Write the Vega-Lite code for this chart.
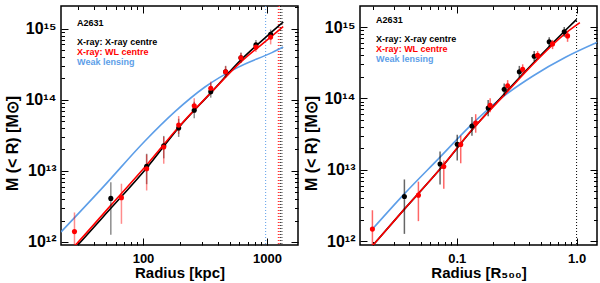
{
  "$schema": "https://vega.github.io/schema/vega-lite/v6.json",
  "padding": {"left": 4, "top": 4, "right": 2, "bottom": 0},
  "spacing": 3,
  "config": {
    "font": "Liberation Sans",
    "view": {"stroke": "black", "strokeWidth": 1.5},
    "axis": {
      "domain": false, "grid": false, "tickColor": "black", "labelColor": "black", "titleColor": "black",
      "labelFont": "Liberation Sans", "titleFont": "Liberation Sans",
      "labelFontWeight": "bold", "titleFontWeight": "bold", "labelOverlap": false, "labelFlush": false, "labelBound": false
    }
  },
  "datasets": {
    "ptsL": [
      {"s": "xc", "R": 55, "M": 4.1e12, "lo": 1.26e12, "hi": 6.9e12},
      {"s": "xc", "R": 107, "M": 1.16e13, "lo": 6.5e12, "hi": 1.74e13},
      {"s": "xc", "R": 147, "M": 2.25e13, "lo": 1.5e13, "hi": 3.1e13},
      {"s": "xc", "R": 194, "M": 4.0e13, "lo": 3.0e13, "hi": 5.4e13},
      {"s": "xc", "R": 259, "M": 7.1e13, "lo": 5.5e13, "hi": 9.4e13},
      {"s": "xc", "R": 352, "M": 1.3e14, "lo": 1.07e14, "hi": 1.7e14},
      {"s": "xc", "R": 464, "M": 2.48e14, "lo": 2.05e14, "hi": 3.0e14},
      {"s": "xc", "R": 617, "M": 3.9e14, "lo": 3.3e14, "hi": 4.6e14},
      {"s": "xc", "R": 815, "M": 5.9e14, "lo": 5.1e14, "hi": 6.9e14},
      {"s": "xc", "R": 1071, "M": 8.3e14, "lo": 7.1e14, "hi": 9.7e14},
      {"s": "wl", "R": 28, "M": 1.4e12, "lo": 6e11, "hi": 2.6e12},
      {"s": "wl", "R": 67, "M": 4.2e12, "lo": 1.8e12, "hi": 6.6e12},
      {"s": "wl", "R": 107, "M": 1.07e13, "lo": 5.3e12, "hi": 1.7e13},
      {"s": "wl", "R": 147, "M": 2.17e13, "lo": 1.26e13, "hi": 3.0e13},
      {"s": "wl", "R": 194, "M": 4.4e13, "lo": 3.3e13, "hi": 5.9e13},
      {"s": "wl", "R": 259, "M": 8.2e13, "lo": 6.6e13, "hi": 1.05e14},
      {"s": "wl", "R": 352, "M": 1.45e14, "lo": 1.2e14, "hi": 1.8e14},
      {"s": "wl", "R": 464, "M": 2.48e14, "lo": 2.1e14, "hi": 2.95e14},
      {"s": "wl", "R": 617, "M": 3.9e14, "lo": 3.35e14, "hi": 4.55e14},
      {"s": "wl", "R": 815, "M": 5.5e14, "lo": 4.7e14, "hi": 6.4e14},
      {"s": "wl", "R": 1071, "M": 7.6e14, "lo": 6.0e14, "hi": 8.8e14}
    ],
    "ptsR": [
      {"s": "xc", "R": 0.0366, "M": 4.2e12, "lo": 1.26e12, "hi": 7.3e12},
      {"s": "xc", "R": 0.0726, "M": 1.2e13, "lo": 6.2e12, "hi": 1.8e13},
      {"s": "xc", "R": 0.101, "M": 2.27e13, "lo": 1.35e13, "hi": 3.1e13},
      {"s": "xc", "R": 0.134, "M": 4.1e13, "lo": 3.0e13, "hi": 5.5e13},
      {"s": "xc", "R": 0.183, "M": 7.3e13, "lo": 5.6e13, "hi": 9.5e13},
      {"s": "xc", "R": 0.249, "M": 1.34e14, "lo": 1.1e14, "hi": 1.62e14},
      {"s": "xc", "R": 0.333, "M": 2.36e14, "lo": 1.95e14, "hi": 2.85e14},
      {"s": "xc", "R": 0.443, "M": 3.9e14, "lo": 3.3e14, "hi": 4.6e14},
      {"s": "xc", "R": 0.591, "M": 6.2e14, "lo": 5.3e14, "hi": 7.2e14},
      {"s": "xc", "R": 0.789, "M": 8.6e14, "lo": 7.3e14, "hi": 1.0e15},
      {"s": "wl", "R": 0.0198, "M": 1.47e12, "lo": 6e11, "hi": 2.7e12},
      {"s": "wl", "R": 0.0479, "M": 4.4e12, "lo": 1.9e12, "hi": 6.8e12},
      {"s": "wl", "R": 0.078, "M": 1.11e13, "lo": 5.4e12, "hi": 1.35e13},
      {"s": "wl", "R": 0.108, "M": 2.25e13, "lo": 1.23e13, "hi": 3.0e13},
      {"s": "wl", "R": 0.144, "M": 4.5e13, "lo": 3.3e13, "hi": 6.0e13},
      {"s": "wl", "R": 0.19, "M": 8.0e13, "lo": 6.4e13, "hi": 1.0e14},
      {"s": "wl", "R": 0.266, "M": 1.5e14, "lo": 1.25e14, "hi": 1.8e14},
      {"s": "wl", "R": 0.355, "M": 2.55e14, "lo": 2.15e14, "hi": 3.0e14},
      {"s": "wl", "R": 0.473, "M": 4.0e14, "lo": 3.45e14, "hi": 4.6e14},
      {"s": "wl", "R": 0.63, "M": 5.8e14, "lo": 4.9e14, "hi": 6.6e14},
      {"s": "wl", "R": 0.841, "M": 7.5e14, "lo": 6.2e14, "hi": 8.8e14}
    ],
    "linesL": [
      {"s": "lens", "R": 21.8, "M": 1.38e12},
      {"s": "lens", "R": 47.6, "M": 5.9e12},
      {"s": "lens", "R": 103.7, "M": 2.63e13},
      {"s": "lens", "R": 181, "M": 6.8e13},
      {"s": "lens", "R": 316, "M": 1.51e14},
      {"s": "lens", "R": 583, "M": 2.85e14},
      {"s": "lens", "R": 1097, "M": 4.6e14},
      {"s": "lens", "R": 1352, "M": 5.5e14},
      {"s": "xc", "R": 23.5, "M": 5.8e11},
      {"s": "xc", "R": 28.8, "M": 8.5e11},
      {"s": "xc", "R": 55.2, "M": 3.0e12},
      {"s": "xc", "R": 107.1, "M": 1.10e13},
      {"s": "xc", "R": 194, "M": 4.05e13},
      {"s": "xc", "R": 352, "M": 1.25e14},
      {"s": "xc", "R": 617, "M": 3.63e14},
      {"s": "xc", "R": 1071, "M": 8.7e14},
      {"s": "xc", "R": 1352, "M": 1.24e15},
      {"s": "wl", "R": 23.5, "M": 6.3e11},
      {"s": "wl", "R": 27.6, "M": 8.5e11},
      {"s": "wl", "R": 55.2, "M": 3.3e12},
      {"s": "wl", "R": 107.1, "M": 1.21e13},
      {"s": "wl", "R": 194, "M": 4.14e13},
      {"s": "wl", "R": 352, "M": 1.25e14},
      {"s": "wl", "R": 617, "M": 3.4e14},
      {"s": "wl", "R": 1071, "M": 7.6e14},
      {"s": "wl", "R": 1352, "M": 1.07e15}
    ],
    "linesR": [
      {"s": "lens", "R": 0.0198, "M": 1.47e12},
      {"s": "lens", "R": 0.0364, "M": 4.55e12},
      {"s": "lens", "R": 0.0726, "M": 1.5e13},
      {"s": "lens", "R": 0.129, "M": 4.08e13},
      {"s": "lens", "R": 0.2296, "M": 9.77e13},
      {"s": "lens", "R": 0.4325, "M": 2.06e14},
      {"s": "lens", "R": 0.815, "M": 3.8e14},
      {"s": "lens", "R": 1.476, "M": 6.07e14},
      {"s": "xc", "R": 0.01995, "M": 8.7e11},
      {"s": "xc", "R": 0.0366, "M": 2.8e12},
      {"s": "xc", "R": 0.0726, "M": 1.02e13},
      {"s": "xc", "R": 0.134, "M": 3.59e13},
      {"s": "xc", "R": 0.249, "M": 1.15e14},
      {"s": "xc", "R": 0.443, "M": 3.23e14},
      {"s": "xc", "R": 0.788, "M": 8.65e14},
      {"s": "xc", "R": 1.0, "M": 1.28e15},
      {"s": "wl", "R": 0.01995, "M": 8.7e11},
      {"s": "wl", "R": 0.0366, "M": 2.8e12},
      {"s": "wl", "R": 0.0726, "M": 1.02e13},
      {"s": "wl", "R": 0.134, "M": 3.62e13},
      {"s": "wl", "R": 0.249, "M": 1.11e14},
      {"s": "wl", "R": 0.443, "M": 3.13e14},
      {"s": "wl", "R": 0.788, "M": 7.9e14},
      {"s": "wl", "R": 1.065, "M": 1.15e15}
    ],
    "vlinesL": [
      {"k": "lens", "R": 976},
      {"k": "wl", "R": 1235},
      {"k": "wl2", "R": 1260},
      {"k": "xc", "R": 1292},
      {"k": "xc2", "R": 1322}
    ],
    "vlinesR": [
      {"k": "xc", "R": 1.0}
    ],
    "txtL": [
      {"s": "xc", "t": "A2631", "R": 29.4, "M": 1.2e15},
      {"s": "xc", "t": "X-ray: X-ray centre", "R": 29.4, "M": 6.5e14},
      {"s": "wl", "t": "X-ray: WL centre", "R": 29.4, "M": 4.7e14},
      {"s": "lens", "t": "Weak lensing", "R": 29.4, "M": 3.4e14}
    ],
    "txtR": [
      {"s": "xc", "t": "A2631", "R": 0.02126, "M": 1.24e15},
      {"s": "xc", "t": "X-ray: X-ray centre", "R": 0.02126, "M": 6.7e14},
      {"s": "wl", "t": "X-ray: WL centre", "R": 0.02126, "M": 4.96e14},
      {"s": "lens", "t": "Weak lensing", "R": 0.02126, "M": 3.59e14}
    ]
  },
  "hconcat": [
    {
      "width": 237,
      "height": 239,
      "resolve": {"axis": {"x": "independent", "y": "independent"}},
      "layer": [
        {
          "data": {"name": "vlinesL"},
          "mark": {"type": "rule", "strokeDash": [1, 2], "strokeWidth": 1, "clip": true},
          "encoding": {
            "x": {"field": "R", "type": "quantitative", "scale": {"type": "log", "domain": [21.8, 1780]}, "axis": null},
            "stroke": {"field": "k", "type": "nominal", "legend": null, "scale": {"domain": ["xc", "xc2", "wl", "wl2", "lens"], "range": ["#000000", "#555555", "#ff0000", "#ff6666", "#5d9ee8"]}}
          }
        },
        {
          "data": {"name": "linesL"},
          "mark": {"type": "line", "interpolate": "monotone", "clip": true},
          "encoding": {
            "x": {"field": "R", "type": "quantitative", "scale": {"type": "log", "domain": [21.8, 1780]},
              "axis": {"orient": "top", "labels": false, "title": null,
                "values": [30,40,50,60,70,80,90,100,200,300,400,500,600,700,800,900,1000],
                "tickSize": {"condition": {"test": "datum.value == 100 || datum.value == 1000", "value": -7}, "value": -3.5}}},
            "y": {"field": "M", "type": "quantitative", "scale": {"type": "log", "domain": [9.07e11, 2.08e15]},
              "axis": {"orient": "right", "labels": false, "title": null,
                "values": [1e12,2e12,3e12,4e12,5e12,6e12,7e12,8e12,9e12,1e13,2e13,3e13,4e13,5e13,6e13,7e13,8e13,9e13,1e14,2e14,3e14,4e14,5e14,6e14,7e14,8e14,9e14,1e15,2e15],
                "tickSize": {"condition": {"test": "datum.value == 1e12 || datum.value == 1e13 || datum.value == 1e14 || datum.value == 1e15", "value": -7}, "value": -3.5}}},
            "color": {"field": "s", "type": "nominal", "legend": null, "scale": {"domain": ["xc", "wl", "lens"], "range": ["#000000", "#ff0000", "#5d9ee8"]}},
            "strokeWidth": {"field": "s", "type": "nominal", "legend": null, "scale": {"domain": ["xc", "wl", "lens"], "range": [1.6, 1.6, 1.1]}},
            "order": {"field": "R", "type": "quantitative"}
          }
        },
        {
          "data": {"name": "ptsL"},
          "mark": {"type": "rule", "strokeWidth": 1.5, "opacity": 0.45, "clip": true},
          "encoding": {
            "x": {"field": "R", "type": "quantitative", "scale": {"type": "log", "domain": [21.8, 1780]}, "axis": null},
            "y": {"field": "lo", "type": "quantitative", "scale": {"type": "log", "domain": [9.07e11, 2.08e15]}, "axis": null},
            "y2": {"field": "hi"},
            "color": {"field": "s", "type": "nominal", "legend": null, "scale": {"domain": ["xc", "wl", "lens"], "range": ["#000000", "#ff0000", "#5d9ee8"]}}
          }
        },
        {
          "data": {"name": "ptsL"},
          "mark": {"type": "circle", "size": 26, "opacity": 1, "clip": true},
          "encoding": {
            "x": {"field": "R", "type": "quantitative", "scale": {"type": "log", "domain": [21.8, 1780]},
              "axis": {"orient": "bottom", "title": "Radius [kpc]", "titleFontSize": 15, "titlePadding": -3, "labelFontSize": 13, "labelPadding": 14,
                "values": [30,40,50,60,70,80,90,100,200,300,400,500,600,700,800,900,1000],
                "labelExpr": "datum.value == 100 ? '100' : datum.value == 1000 ? '1000' : ''",
                "tickSize": {"condition": {"test": "datum.value == 100 || datum.value == 1000", "value": -7}, "value": -3.5}}},
            "y": {"field": "M", "type": "quantitative", "scale": {"type": "log", "domain": [9.07e11, 2.08e15]},
              "axis": {"orient": "left", "title": "M (< R) [M⊙]", "titleFontSize": 16, "titlePadding": 4, "titleY": 137, "labelFontSize": 16, "labelPadding": 12,
                "values": [1e12,2e12,3e12,4e12,5e12,6e12,7e12,8e12,9e12,1e13,2e13,3e13,4e13,5e13,6e13,7e13,8e13,9e13,1e14,2e14,3e14,4e14,5e14,6e14,7e14,8e14,9e14,1e15],
                "labelExpr": "datum.value == 1e12 ? '10¹²' : datum.value == 1e13 ? '10¹³' : datum.value == 1e14 ? '10¹⁴' : datum.value == 1e15 ? '10¹⁵' : ''",
                "tickSize": {"condition": {"test": "datum.value == 1e12 || datum.value == 1e13 || datum.value == 1e14 || datum.value == 1e15", "value": -7}, "value": -3.5}}},
            "color": {"field": "s", "type": "nominal", "legend": null, "scale": {"domain": ["xc", "wl", "lens"], "range": ["#000000", "#ff0000", "#5d9ee8"]}}
          }
        },
        {
          "data": {"name": "txtL"},
          "mark": {"type": "text", "align": "left", "baseline": "middle", "fontSize": 9, "fontWeight": "bold", "font": "Liberation Sans"},
          "encoding": {
            "x": {"field": "R", "type": "quantitative", "scale": {"type": "log", "domain": [21.8, 1780]}, "axis": null},
            "y": {"field": "M", "type": "quantitative", "scale": {"type": "log", "domain": [9.07e11, 2.08e15]}, "axis": null},
            "text": {"field": "t"},
            "color": {"field": "s", "type": "nominal", "legend": null, "scale": {"domain": ["xc", "wl", "lens"], "range": ["#000000", "#ff0000", "#5d9ee8"]}}
          }
        }
      ]
    },
    {
      "width": 237,
      "height": 239,
      "resolve": {"axis": {"x": "independent", "y": "independent"}},
      "layer": [
        {
          "data": {"name": "vlinesR"},
          "mark": {"type": "rule", "strokeDash": [1, 2], "strokeWidth": 1, "color": "black", "clip": true},
          "encoding": {
            "x": {"field": "R", "type": "quantitative", "scale": {"type": "log", "domain": [0.0156, 1.48]}, "axis": null}
          }
        },
        {
          "data": {"name": "linesR"},
          "mark": {"type": "line", "interpolate": "monotone", "clip": true},
          "encoding": {
            "x": {"field": "R", "type": "quantitative", "scale": {"type": "log", "domain": [0.0156, 1.48]},
              "axis": {"orient": "top", "labels": false, "title": null,
                "values": [0.02,0.03,0.04,0.05,0.06,0.07,0.08,0.09,0.1,0.2,0.3,0.4,0.5,0.6,0.7,0.8,0.9,1],
                "tickSize": {"condition": {"test": "datum.value == 0.1 || datum.value == 1", "value": -7}, "value": -3.5}}},
            "y": {"field": "M", "type": "quantitative", "scale": {"type": "log", "domain": [8.8e11, 1.97e15]},
              "axis": {"orient": "right", "labels": false, "title": null,
                "values": [1e12,2e12,3e12,4e12,5e12,6e12,7e12,8e12,9e12,1e13,2e13,3e13,4e13,5e13,6e13,7e13,8e13,9e13,1e14,2e14,3e14,4e14,5e14,6e14,7e14,8e14,9e14,1e15],
                "tickSize": {"condition": {"test": "datum.value == 1e12 || datum.value == 1e13 || datum.value == 1e14 || datum.value == 1e15", "value": -7}, "value": -3.5}}},
            "color": {"field": "s", "type": "nominal", "legend": null, "scale": {"domain": ["xc", "wl", "lens"], "range": ["#000000", "#ff0000", "#5d9ee8"]}},
            "strokeWidth": {"field": "s", "type": "nominal", "legend": null, "scale": {"domain": ["xc", "wl", "lens"], "range": [1.6, 1.6, 1.1]}},
            "order": {"field": "R", "type": "quantitative"}
          }
        },
        {
          "data": {"name": "ptsR"},
          "mark": {"type": "rule", "strokeWidth": 1.5, "opacity": 0.6, "clip": true},
          "encoding": {
            "x": {"field": "R", "type": "quantitative", "scale": {"type": "log", "domain": [0.0156, 1.48]}, "axis": null},
            "y": {"field": "lo", "type": "quantitative", "scale": {"type": "log", "domain": [8.8e11, 1.97e15]}, "axis": null},
            "y2": {"field": "hi"},
            "color": {"field": "s", "type": "nominal", "legend": null, "scale": {"domain": ["xc", "wl", "lens"], "range": ["#000000", "#ff0000", "#5d9ee8"]}}
          }
        },
        {
          "data": {"name": "ptsR"},
          "mark": {"type": "circle", "size": 26, "opacity": 1, "clip": true},
          "encoding": {
            "x": {"field": "R", "type": "quantitative", "scale": {"type": "log", "domain": [0.0156, 1.48]},
              "axis": {"orient": "bottom", "title": "Radius [R₅₀₀]", "titleFontSize": 15, "titlePadding": -3, "labelFontSize": 13, "labelPadding": 14,
                "values": [0.02,0.03,0.04,0.05,0.06,0.07,0.08,0.09,0.1,0.2,0.3,0.4,0.5,0.6,0.7,0.8,0.9,1],
                "labelExpr": "datum.value == 0.1 ? '0.1' : datum.value == 1 ? '1.0' : ''",
                "tickSize": {"condition": {"test": "datum.value == 0.1 || datum.value == 1", "value": -7}, "value": -3.5}}},
            "y": {"field": "M", "type": "quantitative", "scale": {"type": "log", "domain": [8.8e11, 1.97e15]},
              "axis": {"orient": "left", "title": "M (< R) [M⊙]", "titleFontSize": 16, "titlePadding": 4, "titleY": 137, "labelFontSize": 16, "labelPadding": 12,
                "values": [1e12,2e12,3e12,4e12,5e12,6e12,7e12,8e12,9e12,1e13,2e13,3e13,4e13,5e13,6e13,7e13,8e13,9e13,1e14,2e14,3e14,4e14,5e14,6e14,7e14,8e14,9e14,1e15],
                "labelExpr": "datum.value == 1e12 ? '10¹²' : datum.value == 1e13 ? '10¹³' : datum.value == 1e14 ? '10¹⁴' : datum.value == 1e15 ? '10¹⁵' : ''",
                "tickSize": {"condition": {"test": "datum.value == 1e12 || datum.value == 1e13 || datum.value == 1e14 || datum.value == 1e15", "value": -7}, "value": -3.5}}},
            "color": {"field": "s", "type": "nominal", "legend": null, "scale": {"domain": ["xc", "wl", "lens"], "range": ["#000000", "#ff0000", "#5d9ee8"]}}
          }
        },
        {
          "data": {"name": "txtR"},
          "mark": {"type": "text", "align": "left", "baseline": "middle", "fontSize": 9, "fontWeight": "bold", "font": "Liberation Sans"},
          "encoding": {
            "x": {"field": "R", "type": "quantitative", "scale": {"type": "log", "domain": [0.0156, 1.48]}, "axis": null},
            "y": {"field": "M", "type": "quantitative", "scale": {"type": "log", "domain": [8.8e11, 1.97e15]}, "axis": null},
            "text": {"field": "t"},
            "color": {"field": "s", "type": "nominal", "legend": null, "scale": {"domain": ["xc", "wl", "lens"], "range": ["#000000", "#ff0000", "#5d9ee8"]}}
          }
        }
      ]
    }
  ]
}
